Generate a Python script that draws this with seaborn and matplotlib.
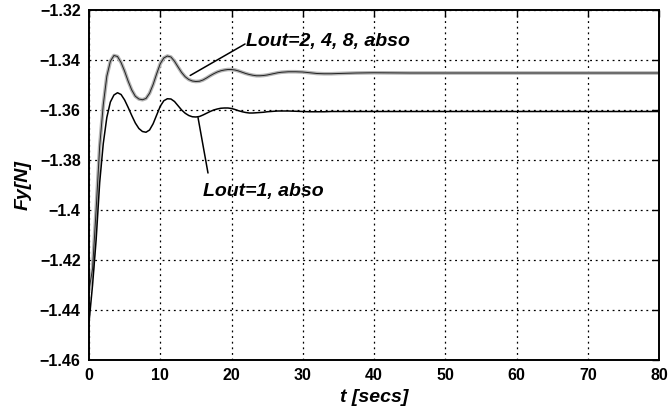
import numpy as np
import pandas as pd
import seaborn as sns
import matplotlib
matplotlib.use("Agg")
import matplotlib.pyplot as plt

# Simulation time samples [s]
t_secs = [0.0, 0.5, 1.0, 1.5, 2.0, 2.5, 3.0, 3.5, 4.0, 4.5, 5.0, 5.5, 6.0, 6.5,
          7.0, 7.5, 8.0, 8.5, 9.0, 9.5, 10.0, 10.5, 11.0, 11.5, 12.0, 12.5, 13.0,
          13.5, 14.0, 14.5, 15.0, 15.5, 16.0, 16.5, 17.0, 17.5, 18.0, 18.5, 19.0,
          19.5, 20.0, 20.5, 21.0, 21.5, 22.0, 22.5, 23.0, 23.5, 24.0, 24.5, 25.0,
          25.5, 26.0, 26.5, 27.0, 27.5, 28.0, 29.0, 30.0, 31.0, 32.0, 33.0, 34.0,
          35.0, 37.5, 40.0, 45.0, 50.0, 55.0, 60.0, 65.0, 70.0, 75.0, 80.0]

# Lateral force, Lout = 2, 4, 8 (curves coincide)
fy_lout_2_4_8 = [-1.4320, -1.4235, -1.4000, -1.3745, -1.3580, -1.3465, -1.3405,
                 -1.3382, -1.3386, -1.3410, -1.3445, -1.3485, -1.3520, -1.3545,
                 -1.3556, -1.3559, -1.3554, -1.3533, -1.3498, -1.3455, -1.3415,
                 -1.3392, -1.3384, -1.3388, -1.3405, -1.3428, -1.3450, -1.3467,
                 -1.3478, -1.3484, -1.3486, -1.3485, -1.3480, -1.3472, -1.3463,
                 -1.3455, -1.3448, -1.3443, -1.3440, -1.3438, -1.3438, -1.3440,
                 -1.3444, -1.3449, -1.3454, -1.3458, -1.3461, -1.3463, -1.3463,
                 -1.3462, -1.3460, -1.3457, -1.3454, -1.3451, -1.3449, -1.3448,
                 -1.3447, -1.3447, -1.3448, -1.3451, -1.3454, -1.3455, -1.3455,
                 -1.3454, -1.3452, -1.3451, -1.3452, -1.3452, -1.3452, -1.3452,
                 -1.3452, -1.3452, -1.3452, -1.3452]

# Lateral force, Lout = 1
fy_lout_1 = [-1.4450, -1.4300, -1.4120, -1.3890, -1.3735, -1.3630, -1.3568,
             -1.3540, -1.3531, -1.3538, -1.3560, -1.3590, -1.3622, -1.3652,
             -1.3674, -1.3686, -1.3689, -1.3680, -1.3655, -1.3620, -1.3585,
             -1.3563, -1.3555, -1.3556, -1.3566, -1.3583, -1.3600, -1.3613,
             -1.3622, -1.3627, -1.3628, -1.3626, -1.3620, -1.3613, -1.3606,
             -1.3600, -1.3596, -1.3593, -1.3592, -1.3592, -1.3594, -1.3598,
             -1.3603, -1.3607, -1.3610, -1.3612, -1.3612, -1.3611, -1.3610,
             -1.3609, -1.3607, -1.3606, -1.3605, -1.3604, -1.3604, -1.3604,
             -1.3604, -1.3605, -1.3606, -1.3607, -1.3607, -1.3607, -1.3606,
             -1.3606, -1.3606, -1.3606, -1.3606, -1.3606, -1.3606, -1.3606,
             -1.3606, -1.3606, -1.3606, -1.3606]

x_ticks = [0, 10, 20, 30, 40, 50, 60, 70, 80]
y_ticks = [-1.46, -1.44, -1.42, -1.40, -1.38, -1.36, -1.34, -1.32]
y_tick_labels = ["\u22121.46", "\u22121.44", "\u22121.42", "\u22121.4",
                 "\u22121.38", "\u22121.36", "\u22121.34", "\u22121.32"]

sns.set_style("white")
plt.rcParams["font.family"] = ["Liberation Sans", "DejaVu Sans"]
plt.rcParams["font.weight"] = "bold"
for key in ("text.color", "axes.labelcolor", "xtick.color", "ytick.color"):
    plt.rcParams[key] = "black"

df = pd.DataFrame({"t": t_secs, "lout248": fy_lout_2_4_8, "lout1": fy_lout_1})

fig = plt.figure(figsize=(6.72, 4.09), dpi=100)
ax = fig.add_axes([89 / 672, 1 - 360 / 409, 570 / 672, 350 / 409])

# Grey trace underneath, dark trace on top (overlapping runs)
sns.lineplot(data=df, x="t", y="lout248", ax=ax, color="#b4b4b4", lw=2.6,
             estimator=None, sort=False)
sns.lineplot(data=df, x="t", y="lout248", ax=ax, color="#222222", lw=0.7,
             estimator=None, sort=False)
sns.lineplot(data=df, x="t", y="lout1", ax=ax, color="black", lw=1.1,
             estimator=None, sort=False)

ax.set_xlim(0, 80)
ax.set_ylim(-1.46, -1.32)
ax.set_xticks(x_ticks)
ax.set_xticklabels([str(v) for v in x_ticks])
ax.set_yticks(y_ticks)
ax.set_yticklabels(y_tick_labels)

ax.grid(True, color="black", lw=0.9, linestyle=(0, (1.5, 3.0)))
ax.tick_params(direction="in", top=True, right=True, length=5, width=1,
               labelsize=11.5, pad=6, colors="black")
for lab in ax.get_xticklabels() + ax.get_yticklabels():
    lab.set_fontweight("bold")
for sp in ax.spines.values():
    sp.set_color("black")
    sp.set_linewidth(1.4)

ax.set_xlabel("t [secs]", fontsize=14, fontweight="bold", fontstyle="italic",
              labelpad=4, color="black")
ax.set_ylabel("Fy[N]", fontsize=14, fontweight="bold", fontstyle="italic",
              labelpad=6, color="black")

# Curve labels with leader lines
ax.annotate("", xy=(14.2, -1.3462), xytext=(21.9, -1.3336),
            arrowprops=dict(arrowstyle="-", lw=1.1, color="black",
                            shrinkA=0, shrinkB=0))
ax.text(22.0, -1.3344, "Lout=2, 4, 8, abso", fontsize=14, fontweight="bold",
        fontstyle="italic", ha="left", va="baseline", color="black")
ax.annotate("", xy=(15.3, -1.3630), xytext=(16.7, -1.3852),
            arrowprops=dict(arrowstyle="-", lw=1.1, color="black",
                            shrinkA=0, shrinkB=0))
ax.text(16.0, -1.3944, "Lout=1, abso", fontsize=14, fontweight="bold",
        fontstyle="italic", ha="left", va="baseline", color="black")

fig.savefig("out.png", dpi=100)
